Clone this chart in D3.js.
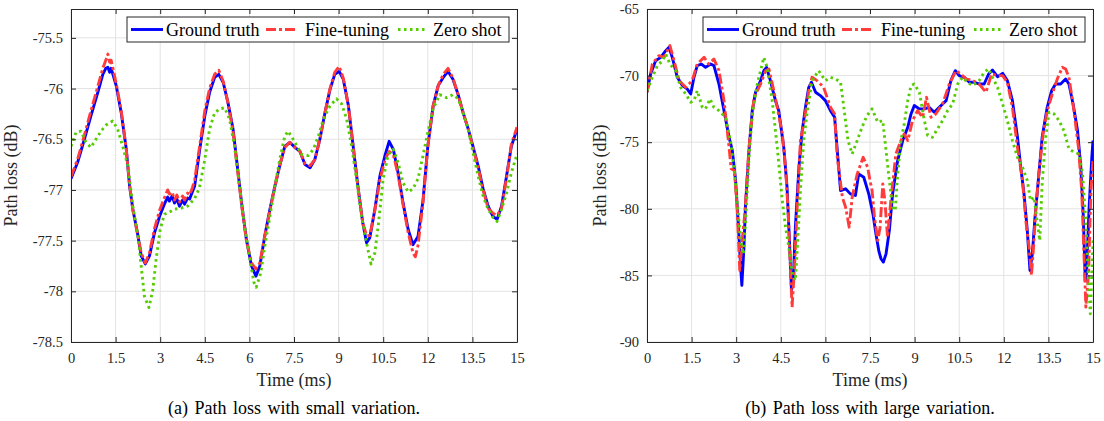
<!DOCTYPE html>
<html>
<head>
<meta charset="utf-8">
<script src="https://cdn.jsdelivr.net/npm/d3@7.9.0/dist/d3.min.js"></script>
<style>
  body { margin: 0; background: #fff; }
  svg { display: block; font-family: "Liberation Serif", "Times New Roman", Times, "DejaVu Serif", serif; }
  .grid line { stroke: #e3e3e3; stroke-width: 1; }
  .tick text { fill: #262626; }
</style>
</head>
<body>
<svg id="chart" width="1104" height="421"></svg>
<script>
// x ticks shared by both panels (ms)
const timeTicks = [0, 1.5, 3, 4.5, 6, 7.5, 9, 10.5, 12, 13.5, 15];
const seriesNames = ['Ground truth', 'Fine-tuning', 'Zero shot'];

// panel (a): small variation, [time ms, path loss dB]
const smallTicks = [-75.5, -76, -76.5, -77, -77.5, -78, -78.5];
const smallGround = [[0,-76.89],[0.22,-76.73],[0.45,-76.5],[0.67,-76.27],[0.9,-76.04],[1.07,-75.86],[1.17,-75.8],[1.24,-75.79],[1.3,-75.84],[1.35,-75.8],[1.52,-75.97],[1.69,-76.24],[1.86,-76.6],[1.97,-76.96],[2.08,-77.19],[2.25,-77.45],[2.36,-77.65],[2.5,-77.73],[2.64,-77.65],[2.81,-77.42],[2.98,-77.26],[3.14,-77.14],[3.25,-77.07],[3.31,-77.11],[3.4,-77.06],[3.48,-77.13],[3.56,-77.09],[3.65,-77.16],[3.75,-77.1],[3.82,-77.14],[3.92,-77.08],[3.99,-77.09],[4.08,-77.02],[4.16,-76.96],[4.33,-76.6],[4.5,-76.27],[4.66,-76.04],[4.83,-75.89],[4.97,-75.86],[5.12,-75.94],[5.28,-76.14],[5.45,-76.4],[5.62,-76.83],[5.75,-77.16],[5.9,-77.49],[6.07,-77.75],[6.22,-77.85],[6.35,-77.75],[6.52,-77.45],[6.69,-77.19],[6.86,-76.96],[7.02,-76.76],[7.19,-76.57],[7.36,-76.53],[7.53,-76.58],[7.7,-76.62],[7.87,-76.75],[8.04,-76.78],[8.2,-76.7],[8.37,-76.5],[8.54,-76.24],[8.71,-76.01],[8.87,-75.86],[9.02,-75.83],[9.16,-75.91],[9.33,-76.17],[9.49,-76.57],[9.66,-76.99],[9.81,-77.32],[9.94,-77.52],[10.05,-77.47],[10.22,-77.19],[10.39,-76.86],[10.56,-76.66],[10.7,-76.52],[10.84,-76.6],[11.0,-76.83],[11.17,-77.13],[11.34,-77.39],[11.5,-77.54],[11.67,-77.46],[11.84,-77.1],[12.0,-76.57],[12.18,-76.17],[12.35,-75.97],[12.52,-75.89],[12.68,-75.83],[12.85,-75.91],[13.02,-76.06],[13.19,-76.24],[13.36,-76.4],[13.52,-76.57],[13.69,-76.76],[13.86,-76.99],[14.03,-77.16],[14.19,-77.26],[14.33,-77.29],[14.48,-77.16],[14.65,-76.86],[14.81,-76.57],[15,-76.4]];
const smallFine = [[0,-76.87],[0.22,-76.7],[0.45,-76.46],[0.67,-76.22],[0.9,-75.98],[1.07,-75.8],[1.17,-75.72],[1.24,-75.66],[1.3,-75.74],[1.35,-75.72],[1.52,-75.95],[1.69,-76.22],[1.86,-76.6],[1.97,-76.95],[2.08,-77.2],[2.25,-77.45],[2.36,-77.62],[2.5,-77.72],[2.64,-77.62],[2.81,-77.38],[2.98,-77.2],[3.14,-77.08],[3.25,-77.0],[3.31,-77.04],[3.4,-77.02],[3.48,-77.1],[3.56,-77.05],[3.65,-77.12],[3.75,-77.06],[3.82,-77.1],[3.92,-77.03],[3.99,-77.05],[4.08,-76.98],[4.16,-76.9],[4.33,-76.56],[4.5,-76.22],[4.66,-76.0],[4.83,-75.86],[4.97,-75.82],[5.12,-75.93],[5.28,-76.14],[5.45,-76.42],[5.62,-76.85],[5.75,-77.18],[5.9,-77.5],[6.07,-77.72],[6.22,-77.78],[6.35,-77.72],[6.52,-77.45],[6.69,-77.2],[6.86,-76.96],[7.02,-76.76],[7.19,-76.58],[7.36,-76.53],[7.53,-76.58],[7.7,-76.62],[7.87,-76.74],[8.04,-76.76],[8.2,-76.7],[8.37,-76.5],[8.54,-76.24],[8.71,-76.0],[8.87,-75.84],[9.02,-75.78],[9.16,-75.9],[9.33,-76.17],[9.49,-76.57],[9.66,-76.99],[9.81,-77.32],[9.94,-77.45],[10.05,-77.45],[10.22,-77.2],[10.39,-76.9],[10.56,-76.7],[10.7,-76.62],[10.84,-76.65],[11.0,-76.85],[11.17,-77.15],[11.34,-77.42],[11.5,-77.62],[11.58,-77.66],[11.67,-77.55],[11.84,-77.12],[12.0,-76.57],[12.18,-76.17],[12.35,-75.97],[12.52,-75.86],[12.68,-75.8],[12.85,-75.9],[13.02,-76.06],[13.19,-76.24],[13.36,-76.4],[13.52,-76.58],[13.69,-76.78],[13.86,-77.0],[14.03,-77.18],[14.19,-77.23],[14.33,-77.25],[14.48,-77.18],[14.65,-76.88],[14.81,-76.55],[15,-76.38]];
const smallZero = [[0,-76.57],[0.17,-76.43],[0.34,-76.42],[0.5,-76.53],[0.67,-76.58],[0.84,-76.5],[1.01,-76.42],[1.18,-76.36],[1.4,-76.32],[1.57,-76.4],[1.74,-76.57],[1.91,-76.76],[2.08,-77.16],[2.25,-77.45],[2.36,-77.75],[2.47,-78.05],[2.62,-78.16],[2.75,-77.99],[2.86,-77.69],[3.0,-77.39],[3.14,-77.24],[3.31,-77.22],[3.48,-77.19],[3.7,-77.18],[3.92,-77.16],[4.15,-77.09],[4.32,-76.98],[4.5,-76.7],[4.66,-76.4],[4.83,-76.24],[5.0,-76.2],[5.17,-76.19],[5.33,-76.3],[5.5,-76.57],[5.67,-76.96],[5.84,-77.36],[6.0,-77.65],[6.15,-77.91],[6.23,-77.96],[6.38,-77.82],[6.52,-77.55],[6.69,-77.26],[6.86,-76.96],[7.02,-76.7],[7.19,-76.47],[7.3,-76.42],[7.47,-76.5],[7.76,-76.65],[7.98,-76.66],[8.15,-76.6],[8.32,-76.47],[8.49,-76.3],[8.71,-76.17],[8.93,-76.1],[9.1,-76.15],[9.27,-76.3],[9.44,-76.57],[9.6,-76.89],[9.77,-77.26],[9.94,-77.52],[10.09,-77.73],[10.22,-77.62],[10.33,-77.36],[10.5,-76.89],[10.67,-76.65],[10.84,-76.6],[11.0,-76.73],[11.17,-76.93],[11.34,-77.02],[11.5,-76.99],[11.67,-76.89],[11.84,-76.66],[12.0,-76.43],[12.18,-76.2],[12.4,-76.06],[12.63,-76.09],[12.85,-76.06],[13.02,-76.1],[13.19,-76.24],[13.36,-76.4],[13.52,-76.63],[13.69,-76.86],[13.86,-77.06],[14.03,-77.19],[14.19,-77.27],[14.33,-77.31],[14.48,-77.19],[14.65,-77.03],[14.81,-76.83],[15,-76.65]];

// panel (b): large variation, [time ms, path loss dB]
const largeTicks = [-65, -70, -75, -80, -85, -90];
const largeGround = [[0,-71.25],[0.12,-69.88],[0.29,-68.88],[0.46,-68.63],[0.63,-68.13],[0.74,-67.88],[0.85,-68.63],[1.02,-70.13],[1.19,-70.75],[1.35,-71.0],[1.47,-71.38],[1.58,-70.13],[1.69,-69.25],[1.83,-69.13],[1.97,-69.38],[2.14,-69.13],[2.25,-69.25],[2.42,-70.63],[2.59,-72.63],[2.76,-74.63],[2.87,-75.63],[2.98,-77.88],[3.07,-81.13],[3.15,-84.38],[3.19,-85.75],[3.26,-82.88],[3.31,-79.88],[3.43,-75.63],[3.54,-72.63],[3.65,-71.25],[3.82,-70.38],[3.93,-69.63],[4.02,-69.38],[4.15,-70.38],[4.32,-71.88],[4.43,-72.63],[4.6,-75.38],[4.71,-78.38],[4.79,-82.38],[4.86,-86.13],[4.92,-85.38],[4.99,-81.38],[5.11,-76.88],[5.22,-74.13],[5.33,-72.38],[5.44,-70.88],[5.53,-70.5],[5.67,-71.25],[5.83,-71.5],[6.0,-71.88],[6.17,-72.63],[6.31,-73.13],[6.4,-75.63],[6.51,-78.63],[6.68,-78.5],[6.84,-78.88],[7.01,-79.0],[7.12,-77.38],[7.29,-77.63],[7.46,-78.9],[7.6,-80.4],[7.7,-81.9],[7.8,-83.2],[7.87,-83.75],[7.95,-84.0],[8.04,-83.38],[8.15,-81.63],[8.26,-78.88],[8.43,-76.38],[8.6,-74.88],[8.77,-73.88],[8.88,-72.88],[8.99,-72.25],[9.16,-72.5],[9.33,-72.5],[9.49,-72.38],[9.66,-72.75],[9.83,-72.38],[10.06,-71.88],[10.22,-70.38],[10.37,-69.63],[10.5,-70.0],[10.67,-70.13],[10.84,-70.5],[11.0,-70.5],[11.17,-70.63],[11.34,-70.63],[11.49,-69.88],[11.62,-69.58],[11.79,-70.08],[11.96,-69.83],[12.12,-70.38],[12.29,-71.88],[12.46,-74.63],[12.57,-76.88],[12.68,-78.88],[12.79,-81.63],[12.88,-84.63],[12.96,-83.38],[13.05,-80.63],[13.16,-77.88],[13.29,-74.63],[13.46,-72.38],[13.61,-71.13],[13.74,-70.63],[13.91,-70.63],[14.08,-70.25],[14.19,-70.63],[14.33,-72.13],[14.48,-74.13],[14.59,-76.88],[14.67,-80.38],[14.74,-85.38],[14.78,-84.88],[14.87,-79.88],[14.96,-76.13],[15,-74.88]];
const largeFine = [[0,-71.25],[0.18,-69.13],[0.4,-68.5],[0.57,-68.63],[0.77,-67.75],[0.91,-68.88],[1.08,-70.38],[1.3,-70.88],[1.52,-70.38],[1.69,-69.13],[1.92,-68.63],[2.08,-69.13],[2.25,-68.75],[2.42,-69.63],[2.59,-71.88],[2.76,-75.38],[2.83,-77.0],[2.94,-77.13],[3.03,-79.88],[3.12,-84.63],[3.2,-82.38],[3.29,-80.38],[3.43,-75.38],[3.6,-71.63],[3.82,-70.63],[3.99,-69.63],[4.1,-69.5],[4.24,-70.88],[4.38,-72.38],[4.55,-74.38],[4.66,-76.88],[4.75,-80.38],[4.83,-84.88],[4.88,-87.38],[4.96,-84.38],[5.05,-79.88],[5.16,-74.88],[5.27,-73.63],[5.44,-71.13],[5.55,-70.13],[5.72,-70.38],[5.94,-70.88],[6.17,-72.38],[6.31,-72.88],[6.4,-76.13],[6.57,-79.13],[6.68,-79.88],[6.8,-81.38],[6.9,-79.13],[7.07,-77.38],[7.27,-76.13],[7.42,-76.88],[7.5,-77.88],[7.57,-78.63],[7.65,-80.63],[7.76,-82.38],[7.84,-81.38],[7.93,-78.13],[8.0,-79.38],[8.09,-82.13],[8.2,-79.38],[8.37,-75.88],[8.54,-74.88],[8.65,-74.38],[8.77,-74.88],[8.93,-73.38],[9.1,-72.63],[9.27,-73.13],[9.4,-71.63],[9.55,-73.13],[9.71,-72.88],[9.94,-72.13],[10.17,-70.63],[10.39,-69.63],[10.56,-69.88],[10.73,-70.25],[10.96,-70.38],[11.17,-70.63],[11.4,-71.25],[11.59,-69.88],[11.79,-70.0],[11.96,-70.0],[12.12,-70.5],[12.29,-72.38],[12.46,-75.38],[12.63,-77.88],[12.74,-80.88],[12.85,-82.88],[12.93,-85.0],[13.0,-82.88],[13.08,-79.88],[13.19,-77.13],[13.32,-74.38],[13.46,-72.63],[13.63,-71.38],[13.8,-70.25],[13.97,-69.38],[14.08,-69.5],[14.19,-70.13],[14.36,-72.63],[14.51,-75.38],[14.62,-78.63],[14.7,-83.63],[14.76,-87.38],[14.85,-84.88],[14.93,-78.63],[15,-76.38]];
const largeZero = [[0,-71.13],[0.18,-70.13],[0.35,-69.25],[0.52,-68.88],[0.63,-68.38],[0.77,-69.13],[0.96,-69.63],[1.13,-70.88],[1.3,-71.38],[1.47,-72.0],[1.58,-71.88],[1.69,-71.13],[1.86,-72.38],[1.97,-72.5],[2.12,-71.75],[2.25,-72.38],[2.42,-72.63],[2.64,-73.13],[2.81,-74.88],[2.92,-76.88],[3.03,-79.38],[3.15,-82.38],[3.24,-83.38],[3.31,-81.13],[3.43,-76.13],[3.54,-72.88],[3.71,-70.63],[3.82,-69.63],[3.93,-68.63],[4.04,-69.38],[4.21,-71.88],[4.38,-75.38],[4.55,-79.38],[4.66,-81.38],[4.77,-82.88],[4.88,-84.88],[4.99,-85.38],[5.07,-82.38],[5.16,-78.63],[5.27,-74.88],[5.38,-72.88],[5.55,-70.38],[5.77,-69.63],[6.0,-70.38],[6.17,-70.13],[6.34,-70.25],[6.51,-70.5],[6.62,-72.38],[6.76,-74.88],[6.9,-75.88],[7.07,-74.88],[7.23,-73.88],[7.4,-73.0],[7.57,-72.5],[7.76,-73.5],[7.93,-73.38],[8.04,-75.63],[8.15,-77.88],[8.26,-79.88],[8.35,-80.13],[8.43,-77.38],[8.54,-74.88],[8.65,-73.63],[8.77,-71.88],[8.88,-70.75],[8.99,-70.63],[9.16,-71.25],[9.33,-73.38],[9.44,-74.5],[9.6,-74.63],[9.77,-74.0],[9.94,-73.38],[10.11,-72.63],[10.28,-72.13],[10.45,-70.63],[10.61,-70.13],[10.78,-70.5],[10.95,-70.75],[11.17,-70.38],[11.34,-69.75],[11.49,-69.5],[11.62,-70.13],[11.79,-70.88],[11.96,-72.13],[12.12,-73.38],[12.29,-74.88],[12.46,-76.13],[12.63,-76.88],[12.79,-77.88],[12.9,-79.38],[13.02,-79.13],[13.13,-81.13],[13.21,-82.38],[13.29,-78.13],[13.41,-74.63],[13.52,-72.75],[13.69,-72.88],[13.86,-73.38],[14.02,-74.13],[14.19,-75.5],[14.36,-75.75],[14.53,-75.88],[14.65,-77.38],[14.76,-81.13],[14.85,-85.38],[14.91,-87.88],[14.96,-84.88],[15,-82.38]];

const colors = ['#0000ff', '#ff3b3b', '#55cc00'];
const dashes = [null, '10,3,3,3', '2.5,3.5'];
const serif = '"Liberation Serif", "Times New Roman", Times, "DejaVu Serif", serif';

const svg = d3.select('#chart');

function drawPanel(opts) {
  const { left, right, top, bottom, yDomain, yTicks, series, caption, clipId, labelOffset } = opts;
  const g = svg.append('g');
  const x = d3.scaleLinear().domain([0, 15]).range([left, right]);
  const y = d3.scaleLinear().domain(yDomain).range([bottom, top]);

  // grid
  const grid = g.append('g').attr('class', 'grid');
  grid.selectAll('.vx').data(timeTicks).enter().append('line')
    .attr('x1', d => x(d)).attr('x2', d => x(d)).attr('y1', top).attr('y2', bottom);
  grid.selectAll('.hy').data(yTicks).enter().append('line')
    .attr('x1', left).attr('x2', right).attr('y1', d => y(d)).attr('y2', d => y(d));

  // lines
  g.append('clipPath').attr('id', clipId).append('rect')
    .attr('x', left).attr('y', top).attr('width', right - left).attr('height', bottom - top);
  const line = d3.line().x(d => x(d[0])).y(d => y(d[1]));
  const lines = g.append('g').attr('clip-path', `url(#${clipId})`);
  series.forEach((s, i) => {
    lines.append('path')
      .datum(s)
      .attr('d', line)
      .attr('fill', 'none')
      .attr('stroke', colors[i])
      .attr('stroke-width', 2.9)
      .attr('stroke-linejoin', 'round')
      .attr('stroke-dasharray', dashes[i]);
  });

  // axes with inward ticks on all sides
  const tickFont = a => a.selectAll('text').attr('font-size', 14.5).attr('font-family', serif);
  const styleAxis = a => {
    a.attr('font-family', serif);
    a.select('.domain').attr('stroke', '#262626');
    a.selectAll('.tick line').attr('stroke', '#262626');
  };
  const hyphen = d => String(d);
  g.append('g').attr('transform', `translate(0,${bottom})`)
    .call(d3.axisBottom(x).tickValues(timeTicks).tickFormat(hyphen).tickSizeInner(-5).tickSizeOuter(0).tickPadding(11))
    .call(tickFont).call(styleAxis);
  g.append('g').attr('transform', `translate(0,${top})`)
    .call(d3.axisTop(x).tickValues(timeTicks).tickFormat('').tickSizeInner(-5).tickSizeOuter(0))
    .call(styleAxis);
  g.append('g').attr('transform', `translate(${left},0)`)
    .call(d3.axisLeft(y).tickValues(yTicks).tickFormat(hyphen).tickSizeInner(-5).tickSizeOuter(0).tickPadding(8))
    .call(tickFont).call(styleAxis);
  g.append('g').attr('transform', `translate(${right},0)`)
    .call(d3.axisRight(y).tickValues(yTicks).tickFormat('').tickSizeInner(-5).tickSizeOuter(0))
    .call(styleAxis);

  // labels
  const cx = (left + right) / 2;
  g.append('text').attr('x', cx).attr('y', 386).attr('text-anchor', 'middle')
    .attr('font-size', 18).attr('fill', '#262626').text('Time (ms)');
  g.append('text').attr('transform', `translate(${left - labelOffset},${(top + bottom) / 2}) rotate(-90)`)
    .attr('text-anchor', 'middle').attr('font-size', 18).attr('fill', '#262626').text('Path loss (dB)');
  g.append('text').attr('x', cx).attr('y', 414).attr('text-anchor', 'middle')
    .attr('font-size', 18).attr('fill', '#000').attr('word-spacing', 2).text(caption);

  // legend
  const lg = g.append('g').attr('transform', `translate(${right - 390},${top + 8})`);
  lg.append('rect').attr('width', 382).attr('height', 25)
    .attr('fill', '#fff').attr('stroke', '#262626').attr('stroke-width', 1);
  const items = [[4, 36, 39], [139, 171, 178], [271, 301, 306]];
  seriesNames.forEach((name, i) => {
    const [x1, x2, tx] = items[i];
    lg.append('line').attr('x1', x1).attr('x2', x2).attr('y1', 12.5).attr('y2', 12.5)
      .attr('stroke', colors[i]).attr('stroke-width', 2.9).attr('stroke-dasharray', dashes[i]);
    lg.append('text').attr('x', tx).attr('y', 18.5).attr('font-size', 18).attr('fill', '#000').text(name);
  });
}

drawPanel({
  left: 71, right: 517, top: 9, bottom: 342,
  yDomain: [-78.5, -75.215], yTicks: smallTicks,
  series: [smallGround, smallFine, smallZero],
  caption: '(a) Path loss with small variation.', clipId: 'clipA', labelOffset: 54
});
drawPanel({
  left: 647, right: 1093, top: 9, bottom: 342,
  yDomain: [-90, -65], yTicks: largeTicks,
  series: [largeGround, largeFine, largeZero],
  caption: '(b) Path loss with large variation.', clipId: 'clipB', labelOffset: 41
});
</script>
</body>
</html>
